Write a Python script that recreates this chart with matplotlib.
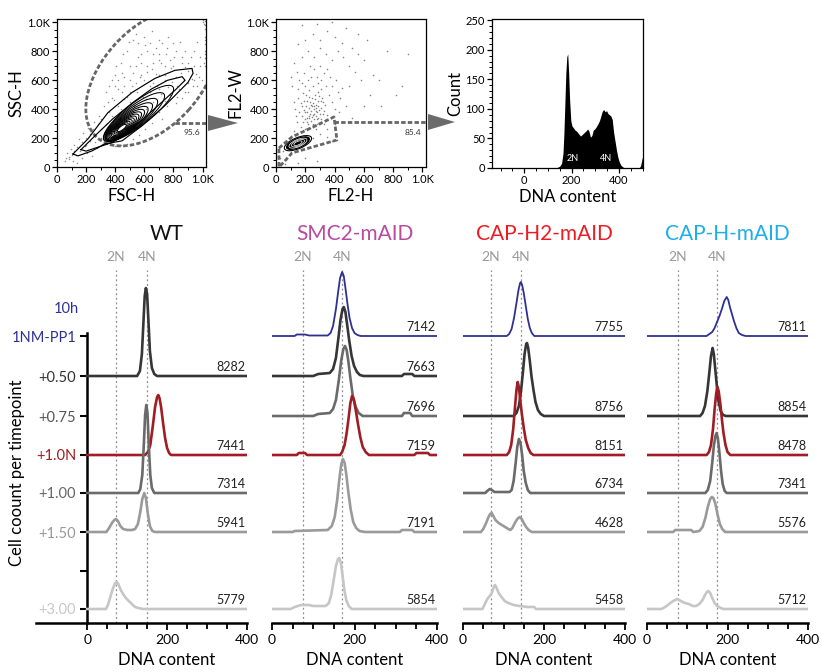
import matplotlib
matplotlib.use('Agg')
import matplotlib.pyplot as plt
from matplotlib.patches import Ellipse, Polygon
from matplotlib.ticker import MultipleLocator

plt.rcParams['font.family'] = ['Lato', 'DejaVu Sans']

W, H = 822, 672


def fig_rect(l, t, r, b):
    return [l / W, 1 - b / H, (r - l) / W, (b - t) / H]


# ------------------------------------------------------------------ data: top row
k_ticks = [0, 200, 400, 600, 800, 1000]
k_labels = ['0', '200', '400', '600', '800', '1.0K']

# FSC-H / SSC-H events (approximate)
fsc_ssc_events = [
    (55, 40), (70, 95), (82, 58), (95, 125), (108, 42), (118, 155), (128, 82), (140, 28), (148, 192), (160, 112),
    (172, 62), (182, 232), (192, 142), (204, 96), (212, 268), (226, 182), (242, 76), (252, 312), (262, 222),
    (276, 132), (292, 352), (302, 262), (312, 162), (322, 420), (338, 522), (358, 382), (378, 602), (392, 462),
    (408, 702), (422, 542), (438, 402), (452, 782), (462, 622), (478, 482), (492, 862), (502, 702), (518, 562),
    (532, 422), (544, 922), (558, 762), (572, 622), (588, 482), (602, 842), (618, 702), (638, 562), (652, 942),
    (662, 782), (678, 642), (702, 882), (718, 722), (742, 602), (758, 822), (782, 682), (802, 762), (818, 622),
    (842, 862), (858, 722), (882, 802), (902, 662), (922, 762), (942, 702), (962, 862), (978, 622), (702, 382),
    (758, 422), (822, 482), (878, 522), (938, 562), (982, 522), (722, 332), (652, 302), (602, 262), (562, 222),
    (522, 192), (482, 162), (442, 152), (402, 142), (362, 152), (332, 202), (372, 252), (422, 302), (472, 352),
    (522, 382), (562, 332), (612, 402), (662, 452), (712, 502), (762, 552), (822, 562), (872, 602), (902, 582),
    (952, 642), (998, 602), (1015, 700), (1016, 752), (1018, 800), (1016, 850), (1019, 902), (1017, 952),
    (1012, 990), (1005, 1005), (1018, 1010), (1000, 1016), (1020, 982), (1010, 722), (1020, 782), (1014, 882),
    (300, 330), (350, 450), (400, 560), (450, 650), (500, 450), (550, 520), (600, 600), (650, 680), (700, 740),
    (750, 780), (800, 700), (850, 650), (450, 520), (520, 650), (580, 720), (640, 520), (690, 560), (740, 640),
    (790, 590), (840, 540), (880, 690), (930, 610), (960, 560), (610, 470), (560, 410), (700, 640),
    (340, 300), (380, 350), (420, 420), (460, 470), (500, 520), (540, 580), (580, 640), (620, 660), (660, 720),
    (700, 780), (740, 700), (780, 740), (820, 800), (860, 760), (900, 720), (940, 800), (980, 760), (360, 560),
    (400, 640), (440, 720), (480, 800), (520, 880), (560, 860), (600, 900), (640, 860), (680, 820), (720, 860),
    (760, 900), (800, 860), (380, 480), (420, 600), (460, 560), (500, 600), (540, 700), (580, 780), (620, 800),
    (660, 580), (700, 540), (740, 460), (780, 500), (820, 440), (860, 480), (900, 520), (940, 600), (980, 700),
    (250, 260), (280, 300), (230, 230), (200, 200), (170, 170), (140, 140), (120, 110), (100, 80), (85, 70),
    (65, 60), (200, 150), (260, 170), (300, 200), (340, 240), (380, 280),
]
fsc_outer_contour = [(110, 90), (213, 195), (350, 376), (515, 515), (673, 613), (811, 669), (928, 682), (935, 648),
                     (900, 585), (742, 425), (584, 285), (447, 181), (330, 160), (240, 111), (144, 77), (110, 90)]
fsc_second_contour = [(165, 120), (260, 215), (380, 330), (520, 445), (650, 540), (760, 600), (860, 625), (880, 600),
                      (820, 540), (700, 430), (580, 320), (470, 225), (380, 170), (290, 140), (200, 110), (165, 120)]
fsc_core_cx = [560, 530, 510, 495, 482, 472, 465, 460, 455, 452, 450, 448, 447, 446]
fsc_core_cy = [370, 345, 327, 313, 302, 293, 287, 282, 278, 275, 273, 272, 271, 270]
fsc_core_a = [300, 260, 225, 200, 178, 160, 143, 127, 112, 97, 82, 67, 52, 38]
fsc_core_b = [80, 72, 66, 60, 55, 50, 45, 41, 37, 33, 28, 23, 18, 13]

# FL2-H / FL2-W events
fl2_events = [
    (170, 280), (185, 310), (200, 265), (210, 340), (220, 295), (230, 370), (240, 320), (250, 280), (260, 400),
    (270, 350), (280, 300), (290, 420), (300, 370), (310, 330), (320, 450), (330, 390), (195, 380), (205, 420),
    (215, 460), (225, 410), (235, 450), (245, 480), (255, 440), (265, 470), (275, 430), (285, 460), (295, 490),
    (305, 410), (315, 480), (175, 350), (180, 420), (190, 460), (240, 390), (250, 360), (260, 330), (270, 390),
    (280, 380), (290, 340), (300, 300), (235, 270), (255, 300), (275, 260), (215, 380), (225, 340), (245, 420),
    (265, 500), (285, 520), (305, 540), (205, 500), (225, 530), (185, 510), (335, 430), (345, 360), (325, 300),
    (170, 440), (120, 250), (140, 310), (130, 400), (150, 480), (110, 560), (160, 600), (190, 650), (220, 600),
    (250, 560), (280, 620), (310, 600), (340, 560), (360, 500), (380, 450), (400, 400), (420, 520), (370, 620),
    (350, 680), (300, 700), (260, 680), (230, 700), (200, 560), (150, 540), (120, 450), (135, 350), (390, 350),
    (410, 600), (440, 480), (380, 560), (330, 650), (290, 580), (240, 620), (180, 580), (160, 380), (350, 260),
    (400, 300), (430, 380), (450, 550), (100, 620), (140, 660), (120, 720), (180, 760), (220, 800), (260, 760),
    (300, 820), (340, 780), (380, 740), (420, 800), (460, 760), (500, 700), (150, 850), (200, 880), (250, 920),
    (300, 880), (350, 940), (400, 900), (450, 860), (520, 820), (560, 780), (600, 740), (180, 980), (280, 990),
    (380, 1000), (480, 960), (560, 920), (620, 880), (660, 640), (700, 600), (760, 800), (820, 500), (900, 780),
    (860, 560), (720, 420), (640, 500), (580, 600), (540, 660), (500, 560), (480, 420), (520, 340), (600, 420),
    (30, 60), (50, 110), (60, 20), (90, 200), (250, 200), (300, 230), (350, 210), (380, 180), (320, 160),
    (200, 60), (150, 30), (280, 40), (228, 355), (262, 365), (248, 345), (272, 410), (238, 430), (292, 395),
    (212, 312), (282, 335), (318, 365), (198, 335), (258, 425), (228, 485), (308, 455), (268, 285), (188, 395),
]
fl2_gate = [(20, 131), (109, 208), (396, 346), (416, 187), (109, 97), (55, 35), (20, 0), (20, 131)]
fl2_core_a = [100, 84, 66, 48, 30]
fl2_core_b = [38, 31, 25, 19, 12]

# DNA content histogram (gated events)
dna_x = [-136, 120, 140, 150, 158, 164, 168, 172, 176, 180, 184, 188, 192, 197, 202, 208, 215, 222, 230, 238,
         246, 254, 262, 268, 274, 280, 286, 292, 298, 305, 312, 318, 324, 330, 336, 342, 348, 354, 360, 366, 372,
         378, 384, 390, 396, 402, 408, 416, 424, 486, 492, 497, 502]
dna_count = [0, 0, 1, 3, 8, 25, 60, 110, 160, 188, 193, 160, 115, 80, 71, 68, 64, 62, 58, 54, 57, 60, 63, 66,
             62, 52, 55, 64, 66, 70, 75, 80, 88, 96, 99, 95, 97, 92, 90, 88, 82, 60, 45, 30, 18, 10, 5, 2, 0, 0,
             4, 14, 22]

# ------------------------------------------------------------------ data: bottom row
slot_base = [287, 247, 207, 168, 130, 91, 52, 14]
slot_labels = ['1NM-PP1', '+0.50', '+0.75', '+1.0N', '+1.00', '+1.50', '', '+3.00']
slot_label_colors = ['#2e3192', '#333333', '#555555', '#a11d25', '#666666', '#999999', '#000000', '#c8c8c8']

C_BLUE, C_DARK, C_MID, C_RED, C_GREY, C_LIGHT = '#2e3192', '#363636', '#6a6a6a', '#a11d25', '#9a9a9a', '#c6c6c6'

# WT
wt_050 = [(0, 0), (125, 0), (132, 5), (137, 22), (141, 55), (144, 80), (147, 88), (150, 82), (153, 58), (157, 25),
          (162, 8), (168, 2), (175, 0), (400, 0)]
wt_10N = [(0, 0), (145, 0), (152, 3), (158, 10), (164, 28), (170, 48), (175, 58), (178, 60), (181, 57), (185, 48),
          (190, 32), (195, 17), (200, 7), (205, 2), (210, 0), (400, 0)]
wt_100 = [(0, 0), (128, 0), (133, 4), (138, 18), (142, 50), (145, 78), (148, 88), (151, 80), (154, 50), (158, 18),
          (162, 5), (168, 0), (400, 0)]
wt_150 = [(0, 0), (48, 0), (55, 4), (62, 9), (68, 12), (72, 13), (77, 11), (83, 6), (90, 3), (100, 2), (112, 2),
          (120, 3), (127, 8), (133, 20), (138, 33), (143, 39), (147, 34), (152, 18), (157, 6), (163, 1), (170, 0),
          (400, 0)]
wt_300 = [(0, 0), (47, 0), (52, 4), (58, 12), (64, 20), (70, 26), (74, 27), (78, 25), (84, 19), (90, 15), (97, 11),
          (104, 8), (112, 5), (120, 2), (128, 1), (140, 0), (400, 0)]

# SMC2-mAID
smc_10h = [(0, 0), (55, 0), (60, 1.5), (80, 1.5), (90, 0.5), (135, 0.5), (142, 3), (148, 10), (155, 27), (160, 43),
           (165, 58), (170, 64), (174, 60), (178, 48), (183, 32), (188, 18), (194, 8), (200, 3), (207, 1), (215, 0),
           (400, 0)]
smc_050 = [(0, 0), (100, 0), (112, 2), (140, 3), (148, 7), (155, 18), (161, 38), (166, 56), (171, 67), (174, 69),
           (178, 64), (182, 52), (187, 36), (193, 20), (199, 10), (206, 4), (213, 1), (222, 0), (315, 0), (320, 2),
           (340, 2), (345, 0), (400, 0)]
smc_075 = [(0, 0), (100, 0), (112, 2), (140, 3), (148, 7), (155, 16), (162, 36), (168, 56), (173, 67), (177, 70),
           (181, 66), (185, 55), (190, 38), (196, 20), (203, 9), (210, 3), (220, 0), (315, 0), (320, 3), (335, 3),
           (340, 0), (400, 0)]
smc_10N = [(0, 0), (60, 0), (65, 2), (80, 2), (85, 0), (165, 0), (170, 3), (176, 10), (181, 22), (186, 38), (190, 52),
           (194, 59), (198, 56), (203, 45), (208, 32), (214, 18), (220, 8), (227, 3), (235, 0), (345, 0), (350, 2),
           (378, 2), (383, 0), (400, 0)]
smc_150 = [(0, 0), (50, 0), (55, 1), (135, 2), (145, 6), (152, 15), (158, 32), (163, 52), (168, 68), (172, 73),
           (176, 69), (180, 58), (185, 40), (191, 22), (197, 10), (204, 4), (212, 1), (225, 0), (310, 0), (315, 2),
           (340, 2), (345, 0), (400, 0)]
smc_300 = [(0, 0), (45, 0), (55, 2), (70, 4), (90, 4), (100, 3), (130, 3), (138, 6), (144, 15), (150, 30), (155, 43),
           (160, 50), (163, 51), (167, 46), (171, 34), (175, 20), (180, 9), (186, 3), (193, 0), (400, 0)]

# CAP-H2-mAID
h2_10h = [(0, 0), (108, 0), (114, 2), (120, 7), (126, 18), (132, 33), (137, 46), (141, 53), (143, 54), (146, 51),
          (150, 43), (155, 30), (160, 17), (165, 8), (170, 3), (176, 0), (400, 0)]
h2_075 = [(0, 0), (125, 0), (132, 3), (138, 10), (143, 24), (148, 44), (152, 62), (156, 72), (158, 73), (161, 68),
          (165, 55), (169, 40), (174, 26), (179, 14), (185, 6), (192, 2), (200, 0), (400, 0)]
h2_10N = [(0, 0), (108, 0), (114, 3), (119, 10), (124, 26), (128, 46), (132, 65), (135, 73), (138, 68), (141, 56),
          (145, 42), (150, 27), (155, 15), (161, 7), (167, 2), (174, 0), (400, 0)]
h2_100 = [(0, 0), (55, 0), (60, 2), (66, 4), (71, 3), (78, 1), (115, 1), (120, 3), (125, 12), (130, 30), (134, 46),
          (138, 54), (142, 50), (146, 38), (150, 22), (155, 10), (160, 3), (166, 0), (400, 0)]
h2_150 = [(0, 0), (44, 0), (50, 3), (56, 8), (62, 14), (67, 18), (71, 19), (75, 16), (80, 12), (88, 9), (96, 7),
          (104, 5), (112, 3), (117, 2), (122, 4), (128, 9), (134, 13), (140, 15), (145, 13), (150, 9), (156, 5),
          (162, 2), (170, 0), (400, 0)]
h2_300 = [(0, 0), (48, 0), (54, 5), (60, 10), (66, 13), (71, 16), (76, 22), (79, 24), (83, 21), (88, 16), (95, 12),
          (103, 8), (112, 6), (125, 4), (140, 3), (160, 2), (176, 2), (180, 0), (400, 0)]

# CAP-H-mAID
hh_10h = [(0, 0), (148, 0), (155, 2), (162, 4), (168, 8), (174, 14), (180, 20), (186, 27), (192, 35), (198, 39),
          (202, 36), (206, 29), (211, 22), (216, 15), (222, 8), (228, 3), (236, 1), (245, 0), (400, 0)]
hh_075 = [(0, 0), (132, 0), (138, 3), (144, 10), (150, 25), (155, 44), (159, 60), (163, 68), (166, 62), (170, 45),
          (174, 28), (178, 14), (183, 5), (189, 1), (196, 0), (400, 0)]
hh_10N = [(0, 0), (148, 0), (154, 3), (159, 10), (164, 26), (168, 46), (172, 62), (175, 68), (178, 64), (182, 52),
          (186, 36), (190, 22), (195, 10), (200, 3), (207, 0), (400, 0)]
hh_100 = [(0, 0), (145, 0), (151, 3), (157, 12), (162, 30), (166, 47), (170, 57), (173, 60), (176, 55), (180, 40),
          (184, 22), (188, 9), (193, 2), (198, 0), (400, 0)]
hh_150 = [(0, 0), (65, 0), (70, 2), (110, 2), (115, 0), (130, 1), (138, 5), (145, 14), (151, 25), (157, 33),
          (161, 35), (165, 34), (170, 28), (175, 18), (181, 8), (187, 3), (194, 0), (400, 0)]
hh_300 = [(0, 0), (36, 0), (45, 2), (55, 5), (65, 8), (75, 10), (84, 8), (94, 6), (104, 5), (114, 3), (122, 3),
          (130, 5), (138, 9), (144, 14), (149, 17), (153, 18), (157, 16), (162, 11), (168, 6), (175, 3), (183, 1),
          (190, 0), (400, 0)]

# (slot, trace, colour, count)
wt_traces = [(1, wt_050, C_DARK, '8282'), (3, wt_10N, C_RED, '7441'), (4, wt_100, C_MID, '7314'),
             (5, wt_150, C_GREY, '5941'), (7, wt_300, C_LIGHT, '5779')]
smc_traces = [(0, smc_10h, C_BLUE, '7142'), (1, smc_050, C_DARK, '7663'), (2, smc_075, C_MID, '7696'),
              (3, smc_10N, C_RED, '7159'), (5, smc_150, C_GREY, '7191'), (7, smc_300, C_LIGHT, '5854')]
h2_traces = [(0, h2_10h, C_BLUE, '7755'), (2, h2_075, C_DARK, '8756'), (3, h2_10N, C_RED, '8151'),
             (4, h2_100, C_MID, '6734'), (5, h2_150, C_GREY, '4628'), (7, h2_300, C_LIGHT, '5458')]
hh_traces = [(0, hh_10h, C_BLUE, '7811'), (2, hh_075, C_DARK, '8854'), (3, hh_10N, C_RED, '8478'),
             (4, hh_100, C_MID, '7341'), (5, hh_150, C_GREY, '5576'), (7, hh_300, C_LIGHT, '5712')]

panel_titles = ['WT', 'SMC2-mAID', 'CAP-H2-mAID', 'CAP-H-mAID']
panel_title_colors = ['#111111', '#b84ba0', '#ed1c24', '#1caee8']
ploidy_marks = [(72, 150), (75, 170), (69, 143), (77, 173)]

# ------------------------------------------------------------------ figure
fig = plt.figure(figsize=(W / 100, H / 100), dpi=100)
GATE = '#666666'
GATE_LS = (0, (1.6, 0.8))


def style_top(ax):
    for s in ax.spines.values():
        s.set_linewidth(0.9)
    ax.tick_params(which='both', direction='out', top=False, right=False, labelsize=8, pad=1.5)
    ax.tick_params(which='major', length=3.5, width=0.9)
    ax.tick_params(which='minor', length=2, width=0.7)


# panel 1
ax1 = fig.add_axes(fig_rect(57, 19, 206, 167))
ax1.scatter([p[0] for p in fsc_ssc_events], [p[1] for p in fsc_ssc_events], s=1.2, c='#333333',
            alpha=0.55, linewidths=0)
for cx, cy, a, b in zip(fsc_core_cx, fsc_core_cy, fsc_core_a, fsc_core_b):
    ax1.add_patch(Ellipse((cx, cy), 2 * a, 2 * b, angle=38, fill=False, ec='black', lw=0.75))
for cont in (fsc_outer_contour, fsc_second_contour):
    ax1.plot([p[0] for p in cont], [p[1] for p in cont], color='black', lw=0.85)
ax1.add_patch(Ellipse((650, 620), 1120, 680, angle=48, fill=False, ec=GATE, lw=2, ls=GATE_LS))
ax1.plot([811, 1024], [306, 306], color=GATE, lw=2, ls=GATE_LS, clip_on=False)
ax1.text(985, 238, '95.6', fontsize=6, ha='right', va='center', color='#333333')
ax1.set_xlim(0, 1024)
ax1.set_ylim(0, 1024)
ax1.set_xticks(k_ticks, k_labels)
ax1.set_yticks(k_ticks, k_labels)
ax1.xaxis.set_minor_locator(MultipleLocator(100))
ax1.yaxis.set_minor_locator(MultipleLocator(50))
ax1.set_xlabel('FSC-H', fontsize=12, labelpad=2)
ax1.set_ylabel('SSC-H', fontsize=12, labelpad=2)
style_top(ax1)

# panel 2
ax2 = fig.add_axes(fig_rect(276, 19, 426, 167))
ax2.scatter([p[0] for p in fl2_events], [p[1] for p in fl2_events], s=1.3, c='#333333', alpha=0.6, linewidths=0)
for i, (a, b) in enumerate(zip(fl2_core_a, fl2_core_b)):
    if i == 0:
        ax2.add_patch(Ellipse((150, 165), 2 * a, 2 * b, angle=23, fill=False, ec='black', lw=0.8))
    elif i == 1:
        ax2.add_patch(Ellipse((150, 165), 2 * a, 2 * b, angle=23, fc='black', ec='black', lw=0.8))
    else:
        ax2.add_patch(Ellipse((150, 165), 2 * a, 2 * b, angle=23, fill=False, ec='white', lw=0.5))
ax2.plot([p[0] for p in fl2_gate], [p[1] for p in fl2_gate], color=GATE, lw=2, ls=GATE_LS)
ax2.plot([396, 1024], [311, 311], color=GATE, lw=2, ls=GATE_LS, clip_on=False)
ax2.text(990, 242, '85.4', fontsize=6, ha='right', va='center', color='#333333')
ax2.set_xlim(0, 1024)
ax2.set_ylim(0, 1024)
ax2.set_xticks(k_ticks, k_labels)
ax2.set_yticks(k_ticks, k_labels)
ax2.xaxis.set_minor_locator(MultipleLocator(100))
ax2.yaxis.set_minor_locator(MultipleLocator(50))
ax2.set_xlabel('FL2-H', fontsize=12, labelpad=2)
ax2.set_ylabel('FL2-W', fontsize=12, labelpad=2)
style_top(ax2)

# panel 3
ax3 = fig.add_axes(fig_rect(492, 19, 643, 168))
ax3.fill_between(dna_x, 0, dna_count, color='black', lw=0)
ax3.text(203, 8, '2N', color='white', fontsize=6.5, ha='center', va='bottom')
ax3.text(347, 8, '4N', color='white', fontsize=6.5, ha='center', va='bottom')
ax3.set_xlim(-136, 502)
ax3.set_ylim(0, 252)
ax3.set_xticks([0, 200, 400])
ax3.set_yticks([0, 50, 100, 150, 200, 250])
ax3.xaxis.set_minor_locator(MultipleLocator(50))
ax3.yaxis.set_minor_locator(MultipleLocator(10))
ax3.set_xlabel('DNA content', fontsize=12, labelpad=2)
ax3.set_ylabel('Count', fontsize=12, labelpad=2)
style_top(ax3)

# arrows between panels
for (l, r, cy) in [(208, 238, 123), (428, 455, 122)]:
    fig.add_artist(Polygon([[l / W, 1 - (cy - 8) / H], [l / W, 1 - (cy + 8) / H], [r / W, 1 - cy / H]],
                           closed=True, transform=fig.transFigure, color='#6b6b6b', lw=0))

# ------------------------------------------------------------------ bottom row
bottom_rects = [fig_rect(36, 263, 247, 623), fig_rect(272, 263, 437, 623),
                fig_rect(463, 263, 625, 623), fig_rect(647, 263, 808, 623)]
bottom_xlims = [(-128, 400), (0, 400), (0, 400), (0, 400)]
all_traces = [wt_traces, smc_traces, h2_traces, hh_traces]

for i in range(4):
    ax = fig.add_axes(bottom_rects[i])
    ax.set_xlim(*bottom_xlims[i])
    ax.set_ylim(0, 360)
    for s in ('top', 'right'):
        ax.spines[s].set_visible(False)
    ax.spines['bottom'].set_linewidth(1.8)
    ax.set_xticks([0, 200, 400])
    ax.set_xticks(range(50, 400, 50), minor=True)
    ax.tick_params(axis='x', which='both', direction='out', labelsize=10, pad=3, width=1.3)
    ax.tick_params(axis='x', which='major', length=5)
    ax.tick_params(axis='x', which='minor', length=4)
    if i == 0:
        ax.spines['left'].set_position(('data', 0))
        ax.spines['left'].set_bounds(0, 290)
        ax.spines['left'].set_linewidth(1.8)
        ax.set_yticks(slot_base, slot_labels)
        ax.tick_params(axis='y', direction='out', length=5, width=1.5, labelsize=10.5, pad=3)
        for lbl, col in zip(ax.get_yticklabels(), slot_label_colors):
            lbl.set_color(col)
        ax.text(-21, 314, '10h', ha='right', va='center', fontsize=10.5, color=slot_label_colors[0])
    else:
        ax.spines['left'].set_visible(False)
        ax.set_yticks([])

    n2, n4 = ploidy_marks[i]
    for xv, lab in ((n2, '2N'), (n4, '4N')):
        ax.plot([xv, xv], [0, 353], color='#8c8c8c', lw=0.9, ls=(0, (1.5, 2.2)), clip_on=False, zorder=1)
        ax.text(xv, 366, lab, color='#999999', fontsize=10, ha='center', va='center')

    for slot, trace, col, count in all_traces[i]:
        base = slot_base[slot]
        lw = 1.3 if col == C_BLUE else 1.9
        ax.plot([p[0] for p in trace], [base + p[1] for p in trace], color=col, lw=lw,
                solid_joinstyle='round', zorder=3)
        ax.text(397, base + 3, count, ha='right', va='bottom', fontsize=9, color='#222222')

    ax.text(200, 389, panel_titles[i], color=panel_title_colors[i], fontsize=15, ha='center', va='center')
    ax.text(200, -37, 'DNA content', fontsize=12, ha='center', va='center')

fig.text(17 / W, 1 - 473 / H, 'Cell coount per timepoint', rotation=90, fontsize=12, ha='center', va='center')

fig.savefig('out.png', dpi=100)
